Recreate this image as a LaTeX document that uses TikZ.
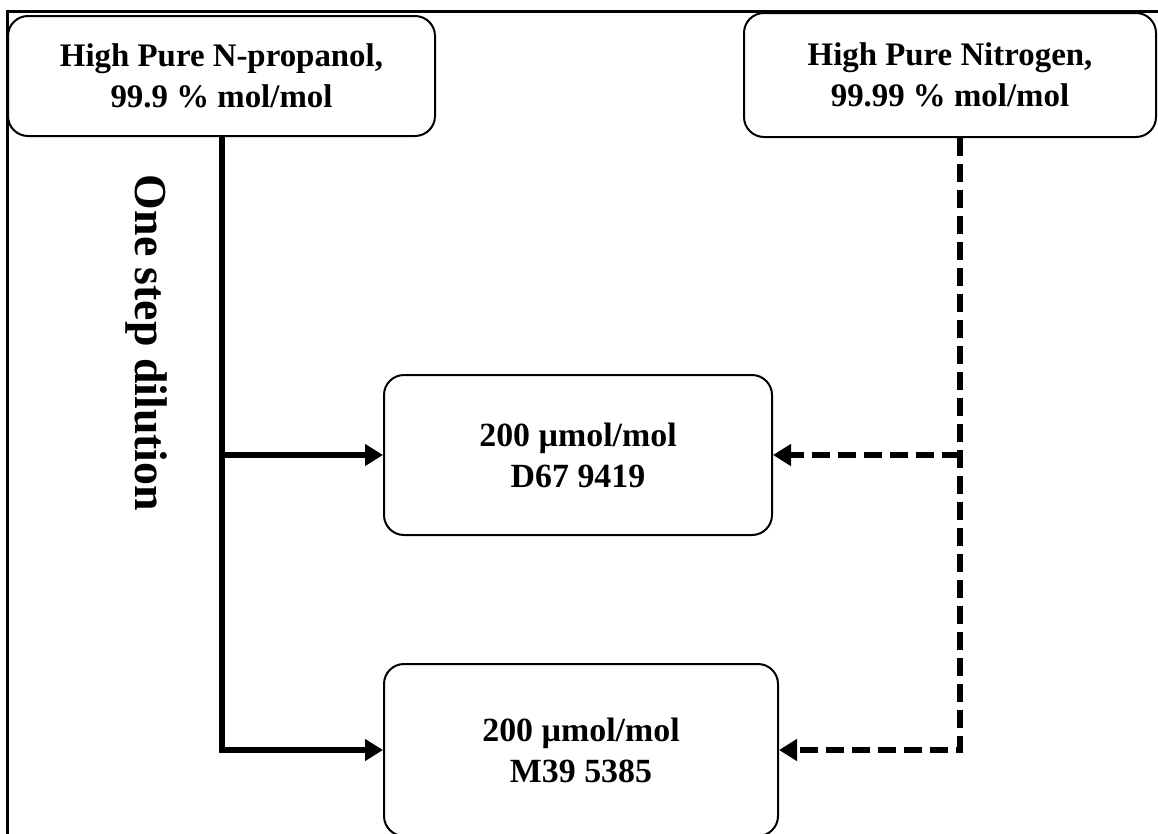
\documentclass[tikz,border=0pt]{standalone}
\usepackage{fontspec}
\setmainfont{Liberation Serif}
\usepackage{tikz}
\usetikzlibrary{arrows,arrows.meta,positioning,calc}

\tikzset{
  box/.style={draw,line width=2bp,rounded corners=20bp,align=center,
    font=\fontsize{33}{41}\selectfont\bfseries},
  feed/.style={line width=6bp},
  gas/.style={line width=6bp,dash pattern=on 18bp off 8bp},
  frame/.style={line width=3bp},
}

\begin{document}
\begin{tikzpicture}[>={Triangle[length=18bp,width=21bp]},line join=miter]
\useasboundingbox (0bp,0bp) rectangle (1158bp,-834bp);
%%
\draw [frame] (7bp,-836bp) -- (7bp,-11bp) -- (1160bp,-11bp);
%
\node (propanol) at (221.5bp,-76bp) [box,minimum width=427bp,minimum height=120bp]
  {High Pure N-propanol,\\99.9 \% mol/mol};
\node (nitrogen) at (950bp,-75bp) [box,minimum width=412bp,minimum height=124bp]
  {High Pure Nitrogen,\\99.99 \% mol/mol};
\node (mixA) at (578bp,-455bp) [box,minimum width=388bp,minimum height=160bp,
  font=\fontsize{34}{41}\selectfont\bfseries]
  {200 µmol/mol\\D67 9419};
\node (mixB) at (581bp,-750bp) [box,minimum width=394bp,minimum height=172bp,
  font=\fontsize{34}{41}\selectfont\bfseries]
  {200 µmol/mol\\M39 5385};
\node (steplabel) at (147bp,-343bp) [rotate=-90,font=\fontsize{46}{52}\selectfont\bfseries]
  {One step dilution};
%
\draw [feed,->] (propanol) |- (mixB);
\draw [feed,->] (propanol.south |- mixA) -- (mixA);
\draw [gas,->] ([xshift=10bp]nitrogen.south) |- (mixB);
\draw [gas,->] ([xshift=10bp]nitrogen.south |- mixA) -- (mixA);
%
\end{tikzpicture}
\end{document}
